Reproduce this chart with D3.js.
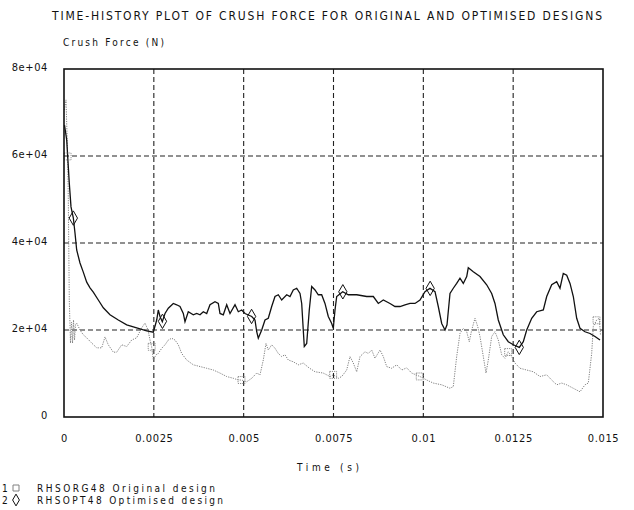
<!DOCTYPE html>
<html>
<head>
<meta charset="utf-8">
<script src="https://cdn.jsdelivr.net/npm/d3@7"></script>
<style>
  body { margin: 0; background: #fff; }
  text { font-family: "DejaVu Sans Condensed", "DejaVu Sans", sans-serif; fill: #111; }
</style>
</head>
<body>
<svg width="634" height="510"></svg>
<script>
// time (s) for the optimised design, solid line
let optTime = [0.000014, 0.000075, 0.000147, 0.000195, 0.000259, 0.000306, 0.000353, 0.000445, 0.000537, 0.000632,
  0.000724, 0.000815, 0.000955, 0.001094, 0.00128, 0.001511, 0.001745, 0.002023, 0.002301, 0.002485,
  0.00258, 0.002624, 0.002672, 0.002736, 0.002811, 0.002903, 0.003042, 0.003136, 0.003228, 0.00332,
  0.003367, 0.003459, 0.003598, 0.003693, 0.003785, 0.003877, 0.003971, 0.004063, 0.004202, 0.004294,
  0.004341, 0.004433, 0.004528, 0.00462, 0.004759, 0.004851, 0.004945, 0.005037, 0.005224, 0.005315,
  0.005363, 0.005407, 0.005502, 0.005594, 0.005685, 0.00578, 0.005872, 0.005964, 0.006058, 0.006198,
  0.006289, 0.006381, 0.006476, 0.006568, 0.006615, 0.006659, 0.006687, 0.006754, 0.006826, 0.006893,
  0.006985, 0.007077, 0.007171, 0.007263, 0.007355, 0.00745, 0.007494, 0.007542, 0.007589, 0.007756,
  0.007912, 0.008146, 0.008424, 0.008608, 0.008747, 0.008886, 0.009072, 0.009211, 0.009351, 0.00949,
  0.009629, 0.009768, 0.009907, 0.010046, 0.010185, 0.010325, 0.010416, 0.010511, 0.010603, 0.010659,
  0.010742, 0.010834, 0.010928, 0.01102, 0.011112, 0.011207, 0.011251, 0.01139, 0.011577, 0.011763,
  0.011902, 0.011994, 0.012086, 0.012225, 0.012364, 0.012504, 0.012671, 0.012782, 0.012877, 0.013016,
  0.013155, 0.013339, 0.013433, 0.013572, 0.013711, 0.013803, 0.013895, 0.01399, 0.014082, 0.014174,
  0.014268, 0.01436, 0.014499, 0.014638, 0.014777, 0.014917];
let optForce = [67100, 63700, 53800, 48300, 45800, 42300, 38400, 35400, 33300, 31000,
  29700, 28700, 26900, 25100, 23500, 22300, 21200, 20500, 19800, 19500,
  22300, 24600, 23100, 21900, 23800, 25000, 26100, 25800, 25400, 23800,
  21900, 24200, 23500, 23800, 23500, 24200, 23800, 25800, 26500, 26100,
  23800, 23500, 25800, 23800, 25800, 24200, 24600, 23800, 23100, 22300,
  19600, 18100, 20000, 22300, 22700, 25400, 27700, 28100, 26900, 28100,
  27700, 29200, 29600, 28400, 26100, 20000, 16200, 16900, 24600, 30000,
  29200, 28100, 28100, 26100, 23100, 21500, 20400, 24600, 27700, 28800,
  28100, 28100, 27700, 27700, 26100, 26900, 26100, 25400, 25400, 25800,
  26100, 26100, 26900, 28800, 29600, 28800, 25400, 21500, 20000, 21200,
  28400, 29600, 30700, 31900, 30700, 32300, 34300, 33400, 32300, 30400,
  28400, 26100, 22300, 18900, 17300, 16600, 16000, 17300, 20000, 22700,
  24200, 24600, 27700, 30400, 31100, 29600, 33000, 32600, 30700, 27700,
  22700, 20400, 19600, 19200, 18500, 17700];

// time (s) for the original design, dotted line
let orgTime = [0.000008, 0.000056, 0.000097, 0.00012, 0.000147, 0.000181, 0.000209, 0.000237, 0.000264, 0.000292,
  0.00032, 0.000353, 0.000445, 0.000537, 0.000632, 0.000771, 0.00091, 0.001049, 0.001141, 0.001233,
  0.001372, 0.001467, 0.001606, 0.001745, 0.001884, 0.002023, 0.002162, 0.002254, 0.002338, 0.002393,
  0.002441, 0.002485, 0.00256, 0.002624, 0.002719, 0.002811, 0.002903, 0.002997, 0.003089, 0.003181,
  0.003275, 0.003415, 0.003598, 0.003785, 0.003971, 0.004155, 0.004341, 0.004528, 0.004711, 0.004851,
  0.004945, 0.005084, 0.005224, 0.005363, 0.005455, 0.005546, 0.005621, 0.005685, 0.00578, 0.005872,
  0.005964, 0.006058, 0.00615, 0.006242, 0.006381, 0.00652, 0.006659, 0.006818, 0.006985, 0.007216,
  0.007403, 0.007494, 0.007633, 0.007728, 0.007867, 0.007959, 0.008051, 0.008146, 0.008238, 0.008377,
  0.008469, 0.008563, 0.008655, 0.008794, 0.008886, 0.00898, 0.00912, 0.009259, 0.009398, 0.009537,
  0.009676, 0.009796, 0.009907, 0.010094, 0.010277, 0.010511, 0.010742, 0.010834, 0.010928, 0.01102,
  0.011112, 0.011207, 0.011279, 0.011346, 0.011438, 0.011513, 0.011577, 0.011669, 0.011744, 0.011808,
  0.011902, 0.011994, 0.012086, 0.012181, 0.012273, 0.012364, 0.012459, 0.012551, 0.01269, 0.012877,
  0.01306, 0.013247, 0.013433, 0.013572, 0.013711, 0.01385, 0.01399, 0.014174, 0.01436, 0.014499,
  0.014591, 0.014685, 0.01473, 0.014824, 0.014897, 0.01493];
let orgForce = [70600, 72900, 61400, 49900, 26900, 17000, 21800, 17000, 22300, 17700,
  21200, 21600, 20000, 18900, 18200, 17000, 15900, 15900, 18400, 16600,
  14900, 14900, 16600, 16200, 17700, 18200, 20500, 21600, 20000, 17700,
  16100, 13100, 14300, 14600, 15800, 16600, 17700, 18100, 17700, 16600,
  14600, 13100, 12000, 11600, 11200, 10800, 10100, 9300, 8900, 8500,
  8500, 8100, 8900, 10100, 9700, 13100, 16900, 15400, 16600, 15800,
  14600, 13900, 14300, 13100, 12700, 12000, 12400, 11300, 10400, 10100,
  9300, 9700, 8900, 9300, 10800, 13900, 12400, 10400, 13900, 15000,
  14600, 15400, 13500, 15400, 13900, 11600, 11200, 12000, 10800, 11300,
  10100, 9700, 9300, 8500, 7800, 7400, 6600, 7000, 13900, 19200,
  20400, 19600, 17300, 20000, 22700, 20800, 18500, 13900, 10100, 13100,
  18500, 19600, 17700, 14300, 13500, 15000, 13900, 12400, 11200, 10800,
  10400, 9300, 9700, 8500, 7400, 7800, 7400, 6600, 5800, 7400,
  7800, 14600, 20800, 22300, 22700, 18900];

// symbol positions along each curve (s)
let orgMarkers = [0.0001, 0.00244, 0.00494, 0.00749, 0.0099, 0.01236, 0.01482];
let optMarkers = [0.00026, 0.00274, 0.00522, 0.00776, 0.01019, 0.01267];

let xTicks = [0, 0.0025, 0.005, 0.0075, 0.01, 0.0125, 0.015];
let xTickLabels = ['0', '0.0025', '0.005', '0.0075', '0.01', '0.0125', '0.015'];
let yTicks = [0, 20000, 40000, 60000, 80000];
let yTickLabels = ['0', '2e+04', '4e+04', '6e+04', '8e+04'];

let legendIds = ['1', '2'];
let legendNames = ['RHSORG48 Original design', 'RHSOPT48 Optimised design'];

(function() {
  let svg = d3.select('svg');
  let left = 64, right = 603, top = 69, bottom = 417;

  let x = d3.scaleLinear().domain([0, 0.015]).range([left, right]);
  let y = d3.scaleLinear().domain([0, 80000]).range([bottom, top]);

  svg.append('text')
    .attr('x', 52).attr('y', 20)
    .attr('textLength', 550).attr('lengthAdjust', 'spacing')
    .style('font-size', '12px')
    .text('TIME-HISTORY PLOT OF CRUSH FORCE FOR ORIGINAL AND OPTIMISED DESIGNS');

  svg.append('text')
    .attr('x', 63).attr('y', 46)
    .attr('textLength', 101).attr('lengthAdjust', 'spacing')
    .style('font-size', '10px')
    .text('Crush Force (N)');

  // dashed grid
  let grid = svg.append('g').attr('class', 'grid')
    .attr('stroke', '#222').attr('stroke-width', 1.1)
    .attr('stroke-dasharray', '5,3');
  grid.selectAll('line.gx')
    .data(xTicks.slice(1, -1))
    .enter().append('line')
    .attr('x1', function(d) { return x(d); })
    .attr('x2', function(d) { return x(d); })
    .attr('y1', top).attr('y2', bottom);
  grid.selectAll('line.gy')
    .data(yTicks.slice(1, -1))
    .enter().append('line')
    .attr('y1', function(d) { return y(d); })
    .attr('y2', function(d) { return y(d); })
    .attr('x1', left).attr('x2', right);

  // axes labels
  let xAxis = svg.append('g')
    .attr('transform', 'translate(0,' + bottom + ')')
    .call(d3.axisBottom(x).tickValues(xTicks).tickSize(0).tickPadding(17)
      .tickFormat(function(d, i) { return xTickLabels[i]; }));
  let yAxis = svg.append('g')
    .attr('transform', 'translate(' + left + ',0)')
    .call(d3.axisLeft(y).tickValues(yTicks).tickSize(0).tickPadding(16)
      .tickFormat(function(d, i) { return yTickLabels[i]; }));
  [xAxis, yAxis].forEach(function(a) {
    a.select('.domain').remove();
    a.selectAll('text')
      .style('font-family', '"DejaVu Sans Condensed", "DejaVu Sans", sans-serif')
      .style('font-size', '11px').style('letter-spacing', '0.6px').attr('fill', '#111');
  });
  yAxis.selectAll('text').attr('dy', '0.1em');

  svg.append('text')
    .attr('x', 297).attr('y', 471)
    .attr('textLength', 62).attr('lengthAdjust', 'spacing')
    .style('font-size', '10px')
    .text('Time (s)');

  let line = d3.line()
    .x(function(d) { return x(d[0]); })
    .y(function(d) { return y(d[1]); });

  let orgData = d3.zip(orgTime, orgForce);
  let optData = d3.zip(optTime, optForce);

  svg.append('path')
    .datum(orgData)
    .attr('d', line)
    .attr('fill', 'none')
    .attr('stroke', '#808080')
    .attr('stroke-width', 1)
    .attr('stroke-dasharray', '1.2,1.2');

  svg.append('path')
    .datum(optData)
    .attr('d', line)
    .attr('fill', 'none')
    .attr('stroke', '#111')
    .attr('stroke-width', 1.3);

  function valueAt(times, forces, t) {
    let i = d3.bisectLeft(times, t);
    if (i <= 0) return forces[0];
    if (i >= times.length) return forces[forces.length - 1];
    let f = (t - times[i - 1]) / (times[i] - times[i - 1]);
    return forces[i - 1] + f * (forces[i] - forces[i - 1]);
  }

  svg.append('g').selectAll('path')
    .data(orgMarkers)
    .enter().append('path')
    .attr('d', d3.symbol(d3.symbolSquare, 48))
    .attr('transform', function(d) {
      return 'translate(' + x(d) + ',' + y(valueAt(orgTime, orgForce, d)) + ')';
    })
    .attr('fill', 'none').attr('stroke', '#808080').attr('stroke-width', 0.9)
    .attr('stroke-dasharray', '1.2,1');

  svg.append('g').selectAll('path')
    .data(optMarkers)
    .enter().append('path')
    .attr('d', d3.symbol(d3.symbolDiamond, 60))
    .attr('transform', function(d) {
      return 'translate(' + x(d) + ',' + y(valueAt(optTime, optForce, d)) + ')';
    })
    .attr('fill', 'none').attr('stroke', '#111').attr('stroke-width', 1);

  // frame
  svg.append('rect')
    .attr('x', left).attr('y', top)
    .attr('width', right - left).attr('height', bottom - top)
    .attr('fill', 'none').attr('stroke', '#111').attr('stroke-width', 1.6);

  // legend
  let legend = svg.append('g');
  legendIds.forEach(function(id, i) {
    let ly = 488 + i * 12;
    legend.append('text').attr('x', 2).attr('y', ly + 4)
      .style('font-size', '10px').text(id);
    legend.append('path')
      .attr('d', d3.symbol(i === 0 ? d3.symbolSquare : d3.symbolDiamond, i === 0 ? 36 : 40))
      .attr('transform', 'translate(16,' + ly + ')')
      .attr('fill', 'none').attr('stroke', i === 0 ? '#808080' : '#111').attr('stroke-width', 1);
    legend.append('text').attr('x', 37).attr('y', ly + 4)
      .attr('textLength', i === 0 ? 178 : 186).attr('lengthAdjust', 'spacing')
      .style('font-size', '10px').text(legendNames[i]);
  });
})();
</script>
</body>
</html>
